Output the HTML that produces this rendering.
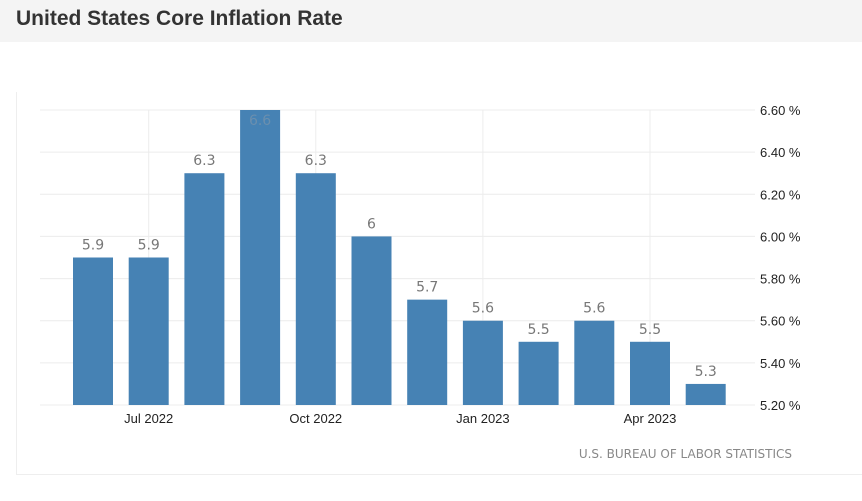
<!DOCTYPE html>
<html><head><meta charset="utf-8"><style>
body{margin:0;width:862px;height:501px;background:#fff;font-family:"Liberation Sans",sans-serif;overflow:hidden;position:relative}
.hdr{position:absolute;left:0;top:0;width:862px;height:42px;background:#f4f4f4}
.hdr h1{margin:0;position:absolute;left:16px;top:7px;font-size:21px;font-weight:bold;color:#333}
.panel{position:absolute;left:16px;top:92px;width:860px;height:382px;border-left:1px solid #eee;border-bottom:1px solid #eee}
</style></head><body>
<div class="hdr"><h1>United States Core Inflation Rate</h1></div>
<div class="panel"></div>
<svg id="c" width="862" height="501" style="position:absolute;left:0;top:0"></svg>
<script>
const categories=["Jun 2022","Jul 2022","Aug 2022","Sep 2022","Oct 2022","Nov 2022","Dec 2022","Jan 2023","Feb 2023","Mar 2023","Apr 2023","May 2023"];
const values=[5.9,5.9,6.3,6.6,6.3,6.0,5.7,5.6,5.5,5.6,5.5,5.3];
const valueLabels=["5.9","5.9","6.3","6.6","6.3","6","5.7","5.6","5.5","5.6","5.5","5.3"];
const yTicks=[5.2,5.4,5.6,5.8,6.0,6.2,6.4,6.6];
const xTickIdx=[1,4,7,10];
const xTickLabels=["Jul 2022","Oct 2022","Jan 2023","Apr 2023"];
const svg=document.getElementById('c');const NS='http://www.w3.org/2000/svg';
const y=v=>405-(v-5.2)/1.4*295;
const x=i=>93+i*55.7;
function mk(t,a,txt){const e=document.createElementNS(NS,t);for(const k in a)e.setAttribute(k,a[k]);if(txt!==undefined)e.textContent=txt;svg.appendChild(e);return e;}
yTicks.forEach(v=>{
 const l=mk('line',{x1:40,x2:755,y1:y(v),y2:y(v),stroke:'#ececec'});
 
 
 const t=mk('text',{x:760,y:y(v)+5,'font-size':13,fill:'#222'},v.toFixed(2)+' %');
 
 
});
xTickIdx.forEach((i,k)=>{
 const l=mk('line',{x1:x(i),x2:x(i),y1:110,y2:405,stroke:'#ececec'});
 
 
 const t=mk('text',{x:x(i),y:423,'font-size':13,fill:'#222','text-anchor':'middle'},xTickLabels[k]);
 
 
});
values.forEach((v,i)=>{
 const r=mk('rect',{x:x(i)-20,y:y(v),width:40,height:405-y(v),fill:'#4682b4'});
 
 
 const inside=y(v)<125;
 const t=mk('text',{x:x(i),y:inside?y(v)+15:y(v)-8,'font-size':14,fill:inside?'#6b8fae':'#777','text-anchor':'middle','font-family':'DejaVu Sans, sans-serif'},valueLabels[i]);
 
 
});
const s=mk('text',{x:792,y:458,'font-size':12,fill:'#888','text-anchor':'end','font-family':'DejaVu Sans, sans-serif'},'U.S. BUREAU OF LABOR STATISTICS');


</script>
</body></html>
